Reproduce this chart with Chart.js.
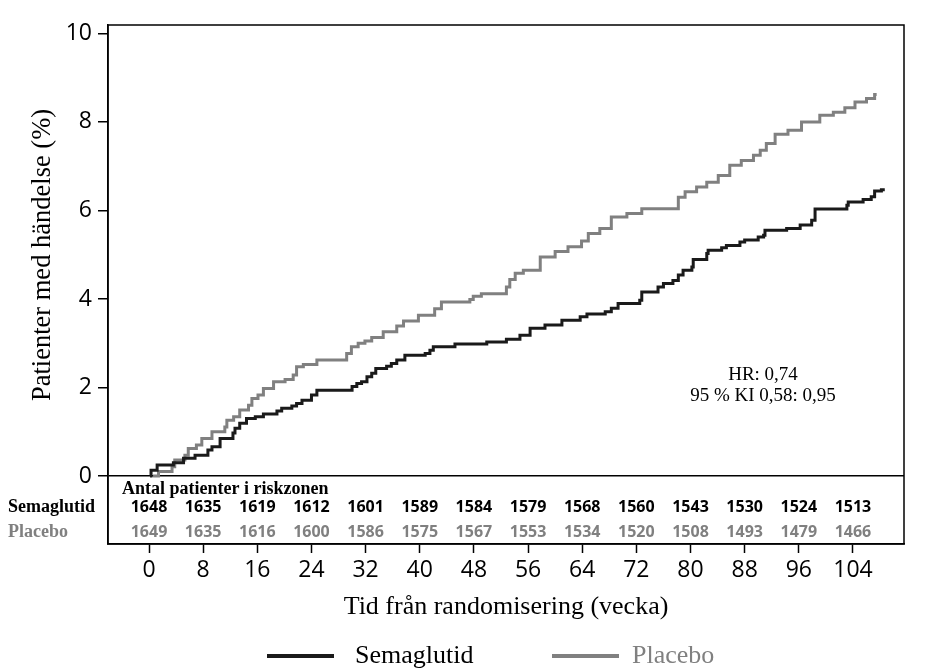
<!DOCTYPE html>
<html>
<head>
<meta charset="utf-8">
<script src="https://cdn.jsdelivr.net/npm/chart.js@4.4.1/dist/chart.umd.min.js"></script>
<style>
  html, body { margin: 0; padding: 0; background: #fff; }
  canvas { display: block; }
</style>
</head>
<body>
<canvas id="km" width="927" height="670"></canvas>
<script>
// kumulativ andel patienter med händelse, avläst från kurvorna (vecka, %)
var semaWeeks = [0.15, 0.3, 1.2, 3.6, 5.1, 6.8, 8.7, 9.3, 10.5, 12.4, 12.7, 13.4, 14.4, 15.7, 16.9, 18.9, 19.6, 21.1, 21.8, 22.6, 24.0, 24.8,
  30.0, 30.7, 31.4, 32.2, 32.9, 33.5, 35.1, 35.8, 36.6, 37.8, 40.8, 41.5, 42.0, 45.2, 49.9, 52.8, 54.8, 56.3, 58.5, 61.0, 63.7, 64.7,
  67.4, 68.3, 69.3, 72.5, 72.8, 75.2, 76.0, 77.4, 78.2, 78.9, 80.2, 80.4, 82.4, 82.6, 84.6, 85.3, 87.3, 88.0, 90.0, 90.8, 91.0, 94.2,
  96.2, 97.9, 98.4, 103.1, 103.3, 105.5, 106.7, 107.2, 108.2, 108.7];
var semaPct = [0, 0.13, 0.25, 0.30, 0.40, 0.47, 0.59, 0.66, 0.85, 0.97, 1.08, 1.19, 1.30, 1.34, 1.40, 1.47, 1.53, 1.58, 1.64, 1.71, 1.83, 1.94,
  2.02, 2.09, 2.13, 2.24, 2.32, 2.43, 2.48, 2.54, 2.62, 2.73, 2.77, 2.84, 2.92, 2.98, 3.03, 3.09, 3.18, 3.34, 3.41, 3.52, 3.60, 3.66,
  3.71, 3.79, 3.90, 3.97, 4.16, 4.27, 4.35, 4.42, 4.54, 4.65, 4.72, 4.89, 5.03, 5.10, 5.16, 5.21, 5.29, 5.33, 5.40, 5.44, 5.55, 5.59,
  5.67, 5.78, 6.03, 6.12, 6.19, 6.25, 6.31, 6.44, 6.47, 6.47];

var placWeeks = [0.6, 1.4, 3.4, 3.8, 5.3, 5.8, 7.0, 7.8, 9.3, 11.2, 11.5, 12.5, 13.4, 14.7, 15.2, 16.1, 16.9, 18.4, 20.1, 21.3, 21.8, 22.8,
  24.8, 29.2, 29.9, 30.9, 31.9, 32.9, 34.6, 36.6, 37.6, 39.8, 42.2, 43.2, 47.4, 47.9, 49.1, 52.8, 53.3, 54.1, 55.3, 57.8, 60.0, 61.9,
  63.9, 64.9, 66.6, 68.3, 70.6, 72.8, 78.2, 79.2, 80.9, 82.4, 84.1, 85.8, 87.5, 89.3, 90.3, 91.2, 92.5, 94.4, 96.4, 99.1, 101.1, 102.8,
  104.3, 106.0, 107.2, 107.5];
var placPct = [0, 0.10, 0.21, 0.36, 0.47, 0.62, 0.70, 0.85, 1.00, 1.11, 1.26, 1.34, 1.49, 1.60, 1.75, 1.83, 1.98, 2.13, 2.18, 2.28, 2.47, 2.52,
  2.62, 2.77, 2.92, 3.00, 3.05, 3.13, 3.26, 3.39, 3.50, 3.63, 3.78, 3.93, 3.99, 4.06, 4.12, 4.27, 4.44, 4.58, 4.65, 4.95, 5.07, 5.18,
  5.31, 5.48, 5.59, 5.85, 5.93, 6.04, 6.30, 6.42, 6.53, 6.64, 6.79, 7.02, 7.13, 7.25, 7.36, 7.51, 7.72, 7.81, 8.00, 8.15, 8.22, 8.32,
  8.45, 8.53, 8.62, 8.62];

// antal patienter i riskzonen
var riskWeeks = [0, 8, 16, 24, 32, 40, 48, 56, 64, 72, 80, 88, 96, 104];
var semaRisk = [1648, 1635, 1619, 1612, 1601, 1589, 1584, 1579, 1568, 1560, 1543, 1530, 1524, 1513];
var placRisk = [1649, 1635, 1616, 1600, 1586, 1575, 1567, 1553, 1534, 1520, 1508, 1493, 1479, 1466];

var yTicks = [0, 2, 4, 6, 8, 10];
var seriesNames = ['Semaglutid', 'Placebo'];
var seriesColors = ['#1a1a1a', '#808080'];

function toXY(xs, ys) {
  var pts = [];
  for (var i = 0; i < xs.length; i++) pts.push({x: xs[i], y: ys[i]});
  return pts;
}

var SERIF = '"Liberation Serif", "Times New Roman", serif';
var SANS = '"Open Sans", "Noto Sans", sans-serif';

// rutan runt diagrammet, risktabellen, y-titel, HR-text och förklaring
var extras = {
  id: 'extras',
  afterDraw: function(chart) {
    var ctx = chart.ctx, a = chart.chartArea;
    var xs = chart.scales.x, ys = chart.scales.y;
    ctx.save();
    ctx.strokeStyle = '#000';
    ctx.lineWidth = 1.5;
    ctx.strokeRect(a.left, a.top, a.right - a.left, a.bottom - a.top);

    ctx.textBaseline = 'middle';
    ctx.fillStyle = '#000';
    ctx.font = 'bold 18px ' + SERIF;
    ctx.textAlign = 'left';
    ctx.fillText('Antal patienter i riskzonen', a.left + 14, ys.getPixelForValue(-0.29));
    ctx.fillText('Semaglutid', 8, ys.getPixelForValue(-0.70));
    ctx.fillStyle = '#808080';
    ctx.fillText('Placebo', 8, ys.getPixelForValue(-1.28));

    ctx.textAlign = 'center';
    ctx.font = 'bold 16px ' + SANS;
    for (var i = 0; i < riskWeeks.length; i++) {
      var px = xs.getPixelForValue(riskWeeks[i]);
      ctx.fillStyle = '#000';
      ctx.fillText(String(semaRisk[i]), px, ys.getPixelForValue(-0.70));
      ctx.fillStyle = '#808080';
      ctx.fillText(String(placRisk[i]), px, ys.getPixelForValue(-1.28));
    }

    // HR-text
    ctx.fillStyle = '#000';
    ctx.font = '19px ' + SERIF;
    ctx.fillText('HR: 0,74', 763, 375);
    ctx.fillText('95 % KI 0,58: 0,95', 763, 396);

    // y-axelns titel
    ctx.save();
    ctx.translate(43, 255);
    ctx.rotate(-Math.PI / 2);
    ctx.font = '26.5px ' + SERIF;
    ctx.fillText('Patienter med händelse (%)', 0, 0);
    ctx.restore();

    // förklaring
    var legX = [267, 552];
    var legTextX = [355, 632];
    var legY = 656;
    ctx.font = '26px ' + SERIF;
    ctx.textAlign = 'left';
    for (var k = 0; k < seriesNames.length; k++) {
      ctx.strokeStyle = seriesColors[k];
      ctx.lineWidth = 4;
      ctx.beginPath();
      ctx.moveTo(legX[k], legY);
      ctx.lineTo(legX[k] + 67, legY);
      ctx.stroke();
      ctx.fillStyle = k === 0 ? '#000' : '#808080';
      ctx.fillText(seriesNames[k], legTextX[k], legY);
    }
    ctx.restore();
  }
};

var chart = new Chart(document.getElementById('km'), {
  type: 'line',
  data: {
    datasets: [{
      label: seriesNames[0],
      data: toXY(semaWeeks, semaPct),
      borderColor: seriesColors[0],
      borderWidth: 3,
      stepped: true,
      pointRadius: 0,
      fill: false
    }, {
      label: seriesNames[1],
      data: toXY(placWeeks, placPct),
      borderColor: seriesColors[1],
      borderWidth: 3,
      stepped: true,
      pointRadius: 0,
      fill: false
    }]
  },
  options: {
    responsive: false,
    animation: false,
    layout: { padding: { top: 25, right: 23, left: 0, bottom: 36 } },
    plugins: { legend: { display: false }, tooltip: { enabled: false } },
    scales: {
      x: {
        type: 'linear',
        min: -6.06,
        max: 111.54,
        afterBuildTicks: function(s) { s.ticks = riskWeeks.map(function(v) { return {value: v}; }); },
        afterFit: function(s) { s.height = 90; },
        grid: { drawOnChartArea: false, drawTicks: true, tickLength: 9, tickColor: '#000', tickWidth: 1.5 },
        border: { display: true, color: '#000', width: 1.5 },
        ticks: { color: '#000', font: { family: SANS, size: 23 }, padding: 4, maxRotation: 0, autoSkip: false },
        title: { display: true, text: 'Tid från randomisering (vecka)', color: '#000', font: { family: SERIF, size: 26 }, padding: { top: 0, bottom: 11 } }
      },
      y: {
        type: 'linear',
        min: -1.536,
        max: 10.19,
        afterBuildTicks: function(s) { s.ticks = yTicks.map(function(v) { return {value: v}; }); },
        afterFit: function(s) { s.width = 108; },
        grid: {
          drawTicks: true, tickLength: 10, tickColor: '#000', tickWidth: 1.5,
          color: function(c) { return c.tick && c.tick.value === 0 ? '#000' : 'rgba(0,0,0,0)'; },
          lineWidth: 1.5
        },
        border: { display: true, color: '#000', width: 1.5 },
        ticks: { color: '#000', font: { family: SANS, size: 23 }, padding: 6 }
      }
    }
  },
  plugins: [extras]
});
</script>
</body>
</html>
